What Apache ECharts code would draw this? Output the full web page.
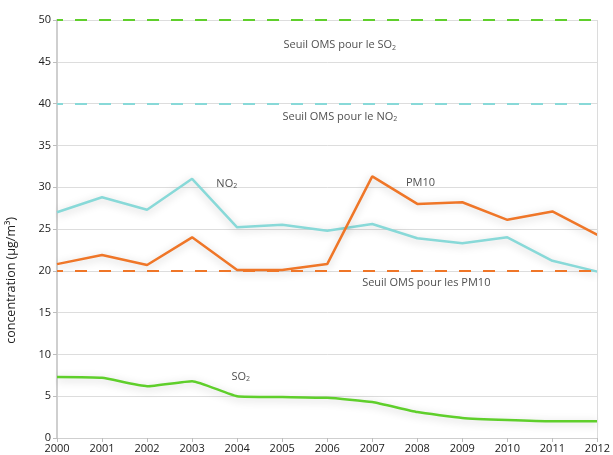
<!DOCTYPE html>
<html><head><meta charset="utf-8">
<script src="https://cdn.jsdelivr.net/npm/echarts@6/dist/echarts.min.js"></script>
<style>html,body{margin:0;padding:0;background:#fff}#c{width:613px;height:455px}</style>
</head><body><div id="c"></div>
<script>
const years = [2000,2001,2002,2003,2004,2005,2006,2007,2008,2009,2010,2011,2012];
const no2 = [27.0,28.8,27.3,31.0,25.2,25.5,24.8,25.6,23.9,23.3,24.0,21.2,19.9];
const pm10 = [20.8,21.9,20.7,24.0,20.1,20.1,20.8,31.3,28.0,28.2,26.1,27.1,24.3];
const so2 = [7.3,7.2,6.2,6.8,5.0,4.9,4.8,4.3,3.1,2.4,2.15,2.0,2.0];
const thresholds = {so2: 50, no2: 40, pm10: 20};
const yTicks = [0,5,10,15,20,25,30,35,40,45,50];
const annotations = [
  [2006.28, 47.0, 'Seuil OMS pour le SO{sub|2}'],
  [2006.28, 38.4, 'Seuil OMS pour le NO{sub|2}'],
  [2008.2, 18.5, 'Seuil OMS pour les PM10'],
  [2003.77, 30.4, 'NO{sub|2}'],
  [2008.07, 30.5, 'PM10'],
  [2004.08, 7.3, 'SO{sub|2}']
];

const FONT = 'Open Sans';
const GREEN = '#5fcf2b', CYAN = '#88d9d8', ORANGE = '#ef7628';
const chart = echarts.init(document.getElementById('c'));
const shadow = {shadowColor: 'rgba(0,0,0,0.22)', shadowBlur: 8, shadowOffsetY: 2};
function lineSeries(name, data, color, smooth) {
  return {
    name, type: 'line', data: years.map((y,i)=>[y,data[i]]), showSymbol: false, smooth: smooth||false,
    lineStyle: Object.assign({color, width: 2.5}, shadow), z: 3
  };
}
function thr(value, color) {
  return {
    type: 'line', data: [], markLine: {
      silent: true, symbol: 'none', label: {show: false},
      data: [{yAxis: value}],
      lineStyle: {color, width: 2, type: [12, 12], dashOffset: 6}
    }
  };
}
chart.setOption({
  animation: false,
  grid: {left: 57, right: 15, top: 20, bottom: 17, show: false},
  xAxis: {
    type: 'value', min: 2000, max: 2012, interval: 1,
    axisLine: {show: true, lineStyle: {color: '#cfcfcf', width: 1}},
    axisTick: {show: true, length: 4, lineStyle: {color: '#bdbdbd'}},
    axisLabel: {color: '#222', fontFamily: FONT, fontSize: 11, margin: 5, formatter: v => String(v)},
    splitLine: {show: false}
  },
  yAxis: {
    type: 'value', min: 0, max: 50, interval: 5,
    axisLine: {show: true, lineStyle: {color: '#cfcfcf', width: 2}},
    axisTick: {show: true, length: 4, lineStyle: {color: '#bdbdbd'}},
    axisLabel: {color: '#222', fontFamily: FONT, fontSize: 11, margin: 6,
      formatter: v => yTicks.includes(v) ? String(v) : ''},
    splitLine: {show: true, lineStyle: {color: '#dddddd', width: 1}}
  },
  graphic: [{
    type: 'text', left: 5, top: 217, rotation: Math.PI/2,
    style: {text: 'concentration (µg/m³)', fill: '#222', font: '12.5px "Open Sans"'}
  }],
  series: [
    {type: 'line', data: [], markLine: {silent: true, symbol: 'none', label: {show: false},
      data: [{xAxis: 2012}], lineStyle: {color: '#dcdcdc', width: 1, type: 'solid'}}},
    thr(thresholds.so2, GREEN),
    thr(thresholds.no2, CYAN),
    thr(thresholds.pm10, ORANGE),
    lineSeries('NO2', no2, CYAN),
    lineSeries('PM10', pm10, ORANGE),
    lineSeries('SO2', so2, GREEN, 0.15),
    {
      type: 'scatter', symbolSize: 0, silent: true, z: 5,
      data: annotations.map(a => ({value: [a[0], a[1]], name: a[2]})),
      label: {
        show: true, position: 'inside', color: '#222', fontFamily: FONT, fontSize: 11,
        formatter: p => p.name,
        rich: {sub: {fontSize: 7, fontFamily: FONT, color: '#222', verticalAlign: 'bottom', padding: [5,0,0,0]}}
      }
    }
  ]
});
</script></body></html>
